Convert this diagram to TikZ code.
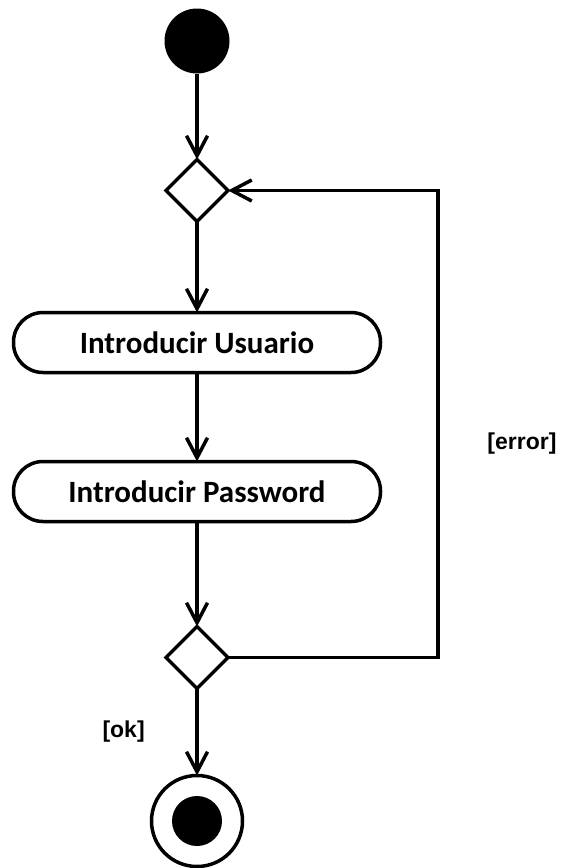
\documentclass[tikz,border=0pt]{standalone}
\usepackage{fontspec}
\setmainfont{Carlito}
\newfontfamily\guardfont{Liberation Sans}
\usetikzlibrary{shapes.geometric,positioning,arrows.meta}

\begin{document}
\begin{tikzpicture}[
	x=1pt, y=-1pt,
	line width=3.5pt,
	activity/.style={rectangle, rounded corners=29.5pt, draw,
		minimum width=367pt, minimum height=60pt,
		font=\fontsize{31}{36}\selectfont\bfseries},
	decision/.style={diamond, draw, minimum size=62pt, inner sep=0pt},
	guard/.style={font=\guardfont\fontsize{23}{28}\selectfont\bfseries},
	flow/.style={-{Straight Barb[length=20pt,width=21pt]}},
	every node/.style={outer sep=0pt},
	node distance=88pt,
]
\useasboundingbox (0,0) rectangle (560,868);
% Start and end states.
\node[circle, fill, minimum size=65pt, inner sep=0pt] (start) at (197,41) {};
	\node[decision, below=86pt of start] (check) {};
	\node[activity, below=91pt of check] (usuario) {Introducir Usuario};
	\node[activity, below=89pt of usuario] (password) {Introducir Password};
	\node[decision, below=105pt of password] (valid) {};
	\node[circle, draw, minimum size=91pt, inner sep=0pt, below=87pt of valid]
		(final) {};
	\node[circle, fill, minimum size=50pt, inner sep=0pt] at (final) (finaldot) {};

% Flows.
	\draw[flow] (start) -- (check);
	\draw[flow] (check) -- (usuario);
	\draw[flow] (usuario) -- (password);
	\draw[flow] (password) -- (valid);
	\draw[flow] (valid) -- (final) node[guard, midway, left=49pt] (ok) {[ok]};
	\draw[flow] (valid.east) -- ++(210,0) |- (check.east);
	\node[guard] at (522,444) (error) {[error]};
\end{tikzpicture}
\end{document}
